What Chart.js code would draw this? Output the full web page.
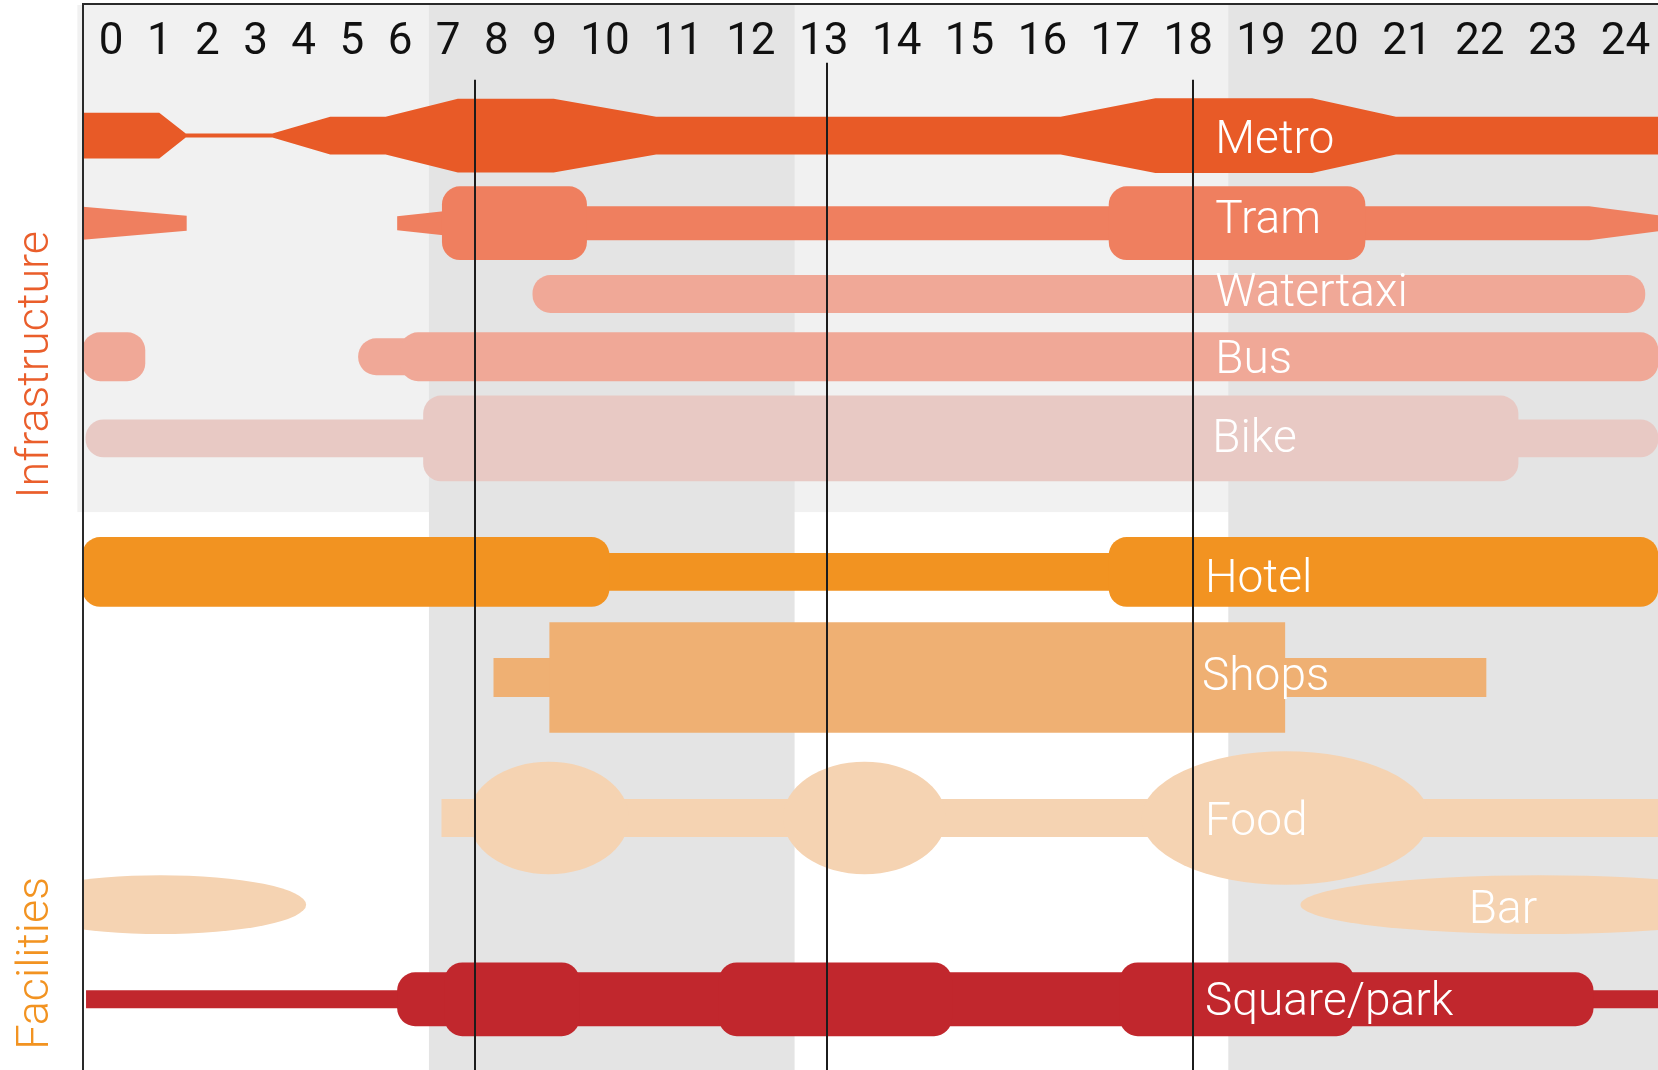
<!DOCTYPE html>
<html>
<head>
<meta charset="utf-8">
<title>Infrastructure and facilities over the day</title>
<script src="https://cdn.jsdelivr.net/npm/chart.js@4.4.1/dist/chart.umd.min.js"></script>
<style>
	html, body { margin: 0; padding: 0; background: #fff; overflow: hidden; }
	canvas { display: block; }
</style>
</head>
<body>
<!-- a little wider than the window: the last hour runs off the right edge -->
<canvas id="rhythm" width="1662" height="1070"></canvas>
<script>
"use strict";

// Hours

var HOUR_TICKS = [0, 1, 2, 3, 4, 5, 6, 7, 8, 9, 10, 11, 12, 13, 14, 15, 16, 17, 18,
	19, 20, 21, 22, 23, 24];
var DAY_BREAKS = [6.6, 12.6, 18.55];	// night | morning | afternoon | evening
var MARKER_HOURS = [7.55, 13.05, 18.07];

// Infrastructure: [hour, thickness] profiles and [from, to, thickness] bars

var metroProfile = [[-0.7, 46], [1.0, 46], [1.55, 4], [3.35, 4], [4.55, 38], [5.7, 38],
	[7.2, 74], [9.15, 74], [10.7, 38], [16.25, 38], [17.55, 75], [19.7, 75], [20.85, 38],
	[25.2, 38]];
var tramProfiles = [
	[[-0.7, 34], [1.57, 15]],
	[[5.94, 14], [6.9, 24]],
	[[9.6, 34], [23.5, 34], [25.2, 2]]
];
var tramPills = [[6.87, 9.7, 74], [16.91, 20.43, 74]];
var watertaxiPills = [[8.75, 24.27, 38]];
var busPills = [[-0.6, 0.71, 49], [5.13, 6.5, 37], [6.0, 24.45, 49]];
var bikePills = [[-0.53, 24.45, 38], [6.48, 22.53, 86]];

// Facilities

var hotelPills = [[-0.6, 24.45, 38], [-0.6, 10.06, 70], [16.91, 24.45, 70]];
var shopsBlocks = [[7.94, 22.09, 39], [9.08, 19.33, 111]];
var foodBlocks = [[6.86, 25.2, 38]];
var foodOvals = [[7.42, 10.33, 113], [12.44, 14.68, 113], [17.36, 21.31, 134]];
var barOvals = [[-2.0, 4.05, 59], [19.54, 26.1, 59]];
var squareBlocks = [[-0.52, 25.2, 18]];
var squarePills = [[5.94, 23.56, 54], [6.92, 9.58, 74], [11.56, 14.76, 74],
	[17.06, 20.28, 74]];

// Rows, top to bottom. lane / labelLane are y units (0..1000 from the top)

var ROWS = [
	{ name: "Metro", colour: "#E85A27", lane: 62, labelLane: 63, labelAt: 18.37,
		profiles: [metroProfile] },
	{ name: "Tram", colour: "#EF7F5F", lane: 150, labelLane: 143, labelAt: 18.37,
		profiles: tramProfiles, pills: tramPills },
	{ name: "Watertaxi", colour: "#F0A897", lane: 221, labelLane: 217, labelAt: 18.37,
		pills: watertaxiPills },
	{ name: "Bus", colour: "#F0A897", lane: 284, labelLane: 284, labelAt: 18.37,
		pills: busPills },
	{ name: "Bike", colour: "#E8C9C4", lane: 366, labelLane: 363, labelAt: 18.33,
		pills: bikePills },
	{ name: "Hotel", colour: "#F29321", lane: 500, labelLane: 504, labelAt: 18.23,
		pills: hotelPills },
	{ name: "Shops", colour: "#EFB073", lane: 606, labelLane: 602, labelAt: 18.19,
		blocks: shopsBlocks },
	{ name: "Food", colour: "#F5D3B2", lane: 747, labelLane: 748, labelAt: 18.23,
		blocks: foodBlocks, ovals: foodOvals },
	{ name: "Bar", colour: "#F5D3B2", lane: 834, labelLane: 836, labelAt: 21.85,
		ovals: barOvals },
	{ name: "Square/park", colour: "#C1272D", lane: 929, labelLane: 928, labelAt: 18.23,
		blocks: squareBlocks, pills: squarePills }
];

var GROUPS = [
	{ name: "Infrastructure", colour: "#EA5E2B", lane: 292 },
	{ name: "Facilities", colour: "#F29321", lane: 893 }
];

var LOOK = {
	tickFont: "Roboto, Liberation Sans, Arial, sans-serif",
	labelFont: "Roboto, Liberation Sans, Arial, sans-serif",
	infraPanelEnd: 440,
	markerTops: [6, -11, 6],
	pillRadius: 18,
	frameInset: 4,
	headRoom: 9,	// shading and frame start this far above the hour labels' box
	lightBand: "#F1F1F1",
	darkBand: "#E4E4E4",
	ink: "#1c1c1c"
};

/**
 * Hour scale: the tick labels sit side by side like a line of text, each slot
 * as wide as its label plus an even gap, and values are placed between the
 * label centres. Two-digit hours therefore get wider slots than one-digit ones.
 */
class HourScale extends Chart.LinearScale {

	buildTicks() {
		return HOUR_TICKS.map(function (h) { return { value: h }; });
	}

	_slots() {
		var key = this.left + ":" + this.width + ":" + this.ticks.length;

		if (this._slotCache && this._slotCache.key === key) {
			return this._slotCache;
		}
		var ctx = this.ctx, font = Chart.helpers.toFont(this.options.ticks.font);
		ctx.save();
		ctx.font = font.string;
		var widths = this.ticks.map(function (t) {
			return ctx.measureText(String(t.label)).width;
		});
		ctx.restore();
		var total = widths.reduce(function (a, b) { return a + b; }, 0),
			gap = (this.width - total) / widths.length,
			x = this.left, centres = [], sizes = [];

		widths.forEach(function (w) {
			centres.push(x + (w + gap) / 2);
			sizes.push(w + gap);
			x += w + gap;
		});
		this._slotCache = {
			key: key, centres: centres, sizes: sizes,
			values: this.ticks.map(function (t) { return t.value; })
		};
		return this._slotCache;
	}

	getPixelForValue(value) {
		var s = this._slots(), v = s.values, c = s.centres, n = v.length;

		if (value <= v[0]) {
			return c[0] + (value - v[0]) * s.sizes[0] / (v[1] - v[0]);
		}
		if (value >= v[n - 1]) {
			return c[n - 1] + (value - v[n - 1]) * s.sizes[n - 1] / (v[n - 1] - v[n - 2]);
		}
		for (var i = 0; i < n - 1; i++) {
			if (value <= v[i + 1]) {
				return c[i] + (value - v[i]) / (v[i + 1] - v[i]) * (c[i + 1] - c[i]);
			}
		}
		return c[n - 1];
	}

	getValueForPixel(pixel) {
		var s = this._slots(), v = s.values, c = s.centres, n = v.length;

		if (pixel <= c[0]) {
			return v[0] + (pixel - c[0]) / s.sizes[0] * (v[1] - v[0]);
		}
		if (pixel >= c[n - 1]) {
			return v[n - 1] + (pixel - c[n - 1]) / s.sizes[n - 1] * (v[n - 1] - v[n - 2]);
		}
		for (var i = 0; i < n - 1; i++) {
			if (pixel <= c[i + 1]) {
				return v[i] + (pixel - c[i]) / (c[i + 1] - c[i]) * (v[i + 1] - v[i]);
			}
		}
		return v[n - 1];
	}
}
HourScale.id = "hours";
HourScale.defaults = {};
Chart.register(HourScale);

// Drawing helpers, all through the chart scales

function fillProfile(ctx, x, y, lane, pts) {
	ctx.beginPath();
	pts.forEach(function (p, i) {
		var px = x.getPixelForValue(p[0]), py = y.getPixelForValue(lane - p[1] / 2);
		if (i === 0) { ctx.moveTo(px, py); } else { ctx.lineTo(px, py); }
	});
	for (var i = pts.length - 1; i >= 0; i--) {
		ctx.lineTo(x.getPixelForValue(pts[i][0]), y.getPixelForValue(lane + pts[i][1] / 2));
	}
	ctx.closePath();
	ctx.fill();
}

function fillBar(ctx, x, y, lane, seg, radius) {
	var x0 = x.getPixelForValue(seg[0]), x1 = x.getPixelForValue(seg[1]),
		top = y.getPixelForValue(lane - seg[2] / 2),
		bottom = y.getPixelForValue(lane + seg[2] / 2),
		h = bottom - top;

	ctx.beginPath();
	ctx.roundRect(x0, top, x1 - x0, h, Math.min(radius, h / 2));
	ctx.fill();
}

function fillOval(ctx, x, y, lane, seg) {
	var x0 = x.getPixelForValue(seg[0]), x1 = x.getPixelForValue(seg[1]),
		top = y.getPixelForValue(lane - seg[2] / 2),
		bottom = y.getPixelForValue(lane + seg[2] / 2);

	ctx.beginPath();
	ctx.ellipse((x0 + x1) / 2, (top + bottom) / 2, (x1 - x0) / 2, (bottom - top) / 2,
		0, 0, Math.PI * 2);
	ctx.fill();
}

var rhythmPlugin = {
	id: "rhythm",

	// day-part shading behind everything, including the hour labels
	beforeDraw: function (chart) {
		var ctx = chart.ctx, x = chart.scales.x, y = chart.scales.y,
			area = chart.chartArea, top = x.top - LOOK.headRoom + 1,
			panelEnd = y.getPixelForValue(LOOK.infraPanelEnd),
			panelStart = x.getPixelForValue(-0.7),
			bands = [[DAY_BREAKS[0], DAY_BREAKS[1]], [DAY_BREAKS[2], x.max]];

		ctx.save();
		ctx.fillStyle = LOOK.lightBand;
		ctx.fillRect(panelStart, top, area.right - panelStart, panelEnd - top);
		ctx.fillStyle = LOOK.darkBand;
		bands.forEach(function (b) {
			var x0 = x.getPixelForValue(b[0]), x1 = x.getPixelForValue(b[1]);
			ctx.fillRect(x0, top, x1 - x0, area.bottom - top);
		});
		ctx.restore();
	},

	afterDraw: function (chart) {
		var ctx = chart.ctx, x = chart.scales.x, y = chart.scales.y, area = chart.chartArea,
			frameX = area.left - LOOK.frameInset, frameY = x.top - LOOK.headRoom;

		ctx.save();
		ctx.beginPath();
		ctx.rect(frameX, area.top, area.right - frameX, area.bottom - area.top);
		ctx.clip();
		ROWS.forEach(function (row) {
			ctx.fillStyle = row.colour;
			(row.profiles || []).forEach(function (p) { fillProfile(ctx, x, y, row.lane, p); });
			(row.blocks || []).forEach(function (s) { fillBar(ctx, x, y, row.lane, s, 0); });
			(row.pills || []).forEach(function (s) {
				fillBar(ctx, x, y, row.lane, s, LOOK.pillRadius);
			});
			(row.ovals || []).forEach(function (s) { fillOval(ctx, x, y, row.lane, s); });
		});
		ctx.restore();

		// marker hours and frame
		ctx.save();
		ctx.strokeStyle = LOOK.ink;
		ctx.lineWidth = 2;
		MARKER_HOURS.forEach(function (h, i) {
			var px = Math.round(x.getPixelForValue(h));
			ctx.beginPath();
			ctx.moveTo(px, y.getPixelForValue(LOOK.markerTops[i]));
			ctx.lineTo(px, area.bottom);
			ctx.stroke();
		});
		ctx.strokeStyle = "#2a2a2a";
		ctx.beginPath();
		ctx.moveTo(frameX, area.bottom);
		ctx.lineTo(frameX, frameY);
		ctx.lineTo(area.right, frameY);
		ctx.stroke();
		ctx.restore();

		// row names
		ctx.save();
		ctx.fillStyle = "#ffffff";
		ctx.font = "300 46px " + LOOK.labelFont;
		ctx.textAlign = "left";
		ctx.textBaseline = "alphabetic";
		ROWS.forEach(function (row) {
			ctx.fillText(row.name, x.getPixelForValue(row.labelAt),
				y.getPixelForValue(row.labelLane) + 46 * 0.355);
		});
		ctx.restore();

		// group titles, reading upwards
		ctx.save();
		ctx.font = "300 45px " + LOOK.labelFont;
		ctx.textAlign = "center";
		ctx.textBaseline = "alphabetic";
		GROUPS.forEach(function (g) {
			ctx.save();
			ctx.translate(48, y.getPixelForValue(g.lane));
			ctx.rotate(-Math.PI / 2);
			ctx.fillStyle = g.colour;
			ctx.fillText(g.name, 0, 0);
			ctx.restore();
		});
		ctx.restore();
	}
};

new Chart(document.getElementById("rhythm"), {
	type: "scatter",
	data: { datasets: [] },
	options: {
		responsive: false,
		animation: false,
		devicePixelRatio: 1,
		events: [],
		layout: { padding: { top: 13, left: 87, right: 0, bottom: 0 } },
		plugins: { legend: { display: false }, tooltip: { enabled: false } },
		scales: {
			x: {
				type: "hours",
				position: "top",
				min: -0.7,
				max: 25.2,
				grid: { display: false, drawTicks: false, tickLength: 0 },
				border: { display: false },
				ticks: {
					autoSkip: false,
					maxRotation: 0,
					minRotation: 0,
					padding: 4,
					color: "#111111",
					font: { family: LOOK.tickFont, size: 44, weight: 400 },
					callback: function (value) { return String(value); }
				}
			},
			y: { type: "linear", min: 0, max: 1000, reverse: true, display: false }
		}
	},
	plugins: [rhythmPlugin]
});
</script>
</body>
</html>
